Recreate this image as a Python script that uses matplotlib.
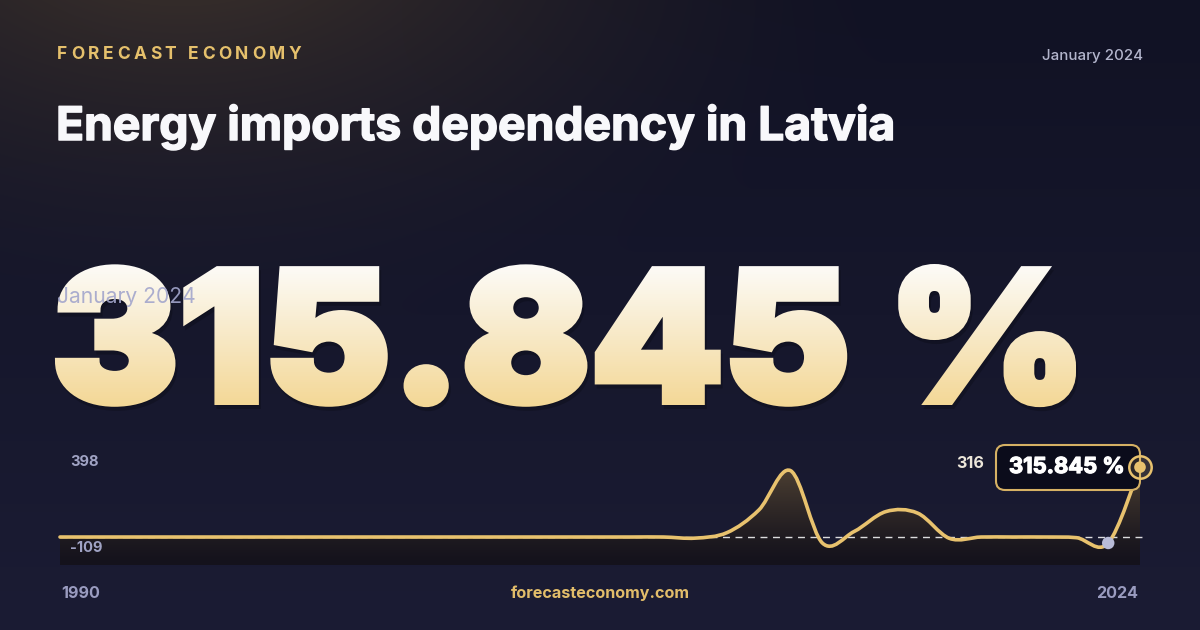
import numpy as np
import matplotlib
matplotlib.use("Agg")
import matplotlib.pyplot as plt
import matplotlib.patheffects as pe
from matplotlib.path import Path
from matplotlib.patches import PathPatch, FancyBboxPatch, Rectangle
from matplotlib.textpath import TextPath, text_to_path
from matplotlib.font_manager import FontProperties
from matplotlib.transforms import Affine2D

# ---------------- data ----------------
years = [1990, 1991, 1992, 1993, 1994, 1995, 1996, 1997, 1998, 1999,
         2000, 2001, 2002, 2003, 2004, 2005, 2006, 2007, 2008, 2009,
         2010, 2011, 2012, 2013, 2014, 2015, 2016, 2017, 2018, 2019,
         2020, 2021, 2022, 2023, 2024]
values = [0, 0, 0, 0, 0, 0, 0, 0, 0, 0,
          0, 0, 0, 0, 0, 0, 0, 0, 0, 0,
          -5, 20, 122, 300, -27, 25, 115, 108, -6, 0,
          0, 0, -3, -27, 315.845]
y_max_label = 398
y_min_label = -109
last_label = "315.845 %"
big_value = "315.845 %"
title = "Energy imports dependency in Latvia"
brand = "FORECAST ECONOMY"
period = "January 2024"
site = "forecasteconomy.com"

GOLD = "#e8c26e"
FONT = ["Inter", "DejaVu Sans"]
PX = 72 / 100  # points per pixel at dpi 100

fig = plt.figure(figsize=(12, 6.3), dpi=100)

# ---------------- background (pixel coords) ----------------
bg = fig.add_axes([0, 0, 1, 1])
bg.set_xlim(0, 1200)
bg.set_ylim(630, 0)
bg.axis("off")

yy, xx = np.mgrid[0:630, 0:1200]
t = (yy / 630.0)[..., None]
base = np.array([17, 18, 36]) * (1 - t) + np.array([27, 28, 52]) * t
d = np.sqrt(((xx - 180) / 750.0) ** 2 + ((yy + 80) / 420.0) ** 2)
w = (np.clip(1 - d, 0, 1) ** 1.6)[..., None]
glow = np.array([66, 54, 44])
img = base * (1 - w) + glow * w
bg.imshow(img / 255.0, extent=(0, 1200, 630, 0), aspect="auto", zorder=0)

# brand with letter spacing
bprop = FontProperties(family=FONT, weight="bold", size=12.5)
adv = [text_to_path.get_text_width_height_descent(c, bprop, ismath=False)[0] / PX
       for c in brand]
span = 299 - 57
gap = (span - sum(adv[:-1]) - adv[-1] * 0.8) / (len(brand) - 1)
x = 57
for c, a in zip(brand, adv):
    bg.text(x, 59, c, fontproperties=bprop, color="#e5c06c", va="baseline", ha="left")
    x += a + gap

bg.text(1143, 60, period, family=FONT, fontsize=10.9, color="#b3b5cc",
        ha="right", va="baseline", fontweight="medium")
bg.text(56, 140, title, family=FONT, fontsize=33.3, fontweight="bold",
        color="#f8f8fb", ha="left", va="baseline",
        path_effects=[pe.withStroke(linewidth=1.1, foreground="#f8f8fb")])

# big value: heavy glyphs (fill + stroke) with a vertical gradient
vprop = FontProperties(family=FONT, weight="black")
tp = TextPath((0, 0), big_value, size=100, prop=vprop)
ext = tp.get_extents()
r = 3.5  # stroke half width in px
sx = (1076 - 55 - 2 * r) / (ext.x1 - ext.x0)
sy = (405 - 264 - 2 * r) / ext.y1
tr = Affine2D().scale(sx, -sy).translate(55 + r - ext.x0 * sx, 405 - r)
vpath = tr.transform_path(tp)
lw_pt = 2 * r * PX

bg.add_patch(PathPatch(vpath, transform=Affine2D().translate(2, 4) + bg.transData,
                       facecolor="black", edgecolor="black", lw=lw_pt,
                       joinstyle="miter", alpha=0.2, zorder=1))
top_c = np.array([252, 251, 248]) / 255
bot_c = np.array([243, 215, 150]) / 255
y0, y1, step = 256, 412, 2
for yb in range(y0, y1, step):
    f = min(max((yb + step / 2 - 264) / (405 - 264), 0), 1)
    col = top_c * (1 - f) + bot_c * f
    band = Rectangle((0, yb), 1200, step, transform=bg.transData)
    p = PathPatch(vpath, transform=bg.transData, facecolor=col, edgecolor=col,
                  lw=lw_pt, joinstyle="miter", zorder=2)
    bg.add_patch(p)
    p.set_clip_path(band)

bg.text(57, 302.7, period, family=FONT, fontsize=15.2, color="#a3a6cc",
        alpha=0.9, ha="left", va="baseline", zorder=5)

# bottom labels
bg.text(61, 598, str(years[0]), family=FONT, fontsize=11.6, fontweight="bold",
        color="#9a9cc0", ha="left", va="baseline")
bg.text(1138, 598, str(years[-1]), family=FONT, fontsize=11.6, fontweight="bold",
        color="#9a9cc0", ha="right", va="baseline")
bg.text(600, 598, site, family=FONT, fontsize=11.6, fontweight="bold",
        color="#e2bd6a", ha="center", va="baseline")

# ---------------- chart ----------------
ax = fig.add_axes([60 / 1200, (630 - 565) / 630, 1080 / 1200, 116 / 630])
ymin = y_min_label - 17.5
ax.set_xlim(years[0], years[-1])
ax.set_ylim(ymin, y_max_label)
ax.axis("off")
ax.patch.set_alpha(0)

pts = np.column_stack([years, values]).astype(float)
n = len(pts)
verts = [pts[0]]
codes = [Path.MOVETO]
for i in range(n - 1):
    p0 = pts[i - 1] if i > 0 else pts[i]
    p1 = pts[i]
    p2 = pts[i + 1]
    p3 = pts[i + 2] if i + 2 < n else pts[i + 1]
    verts += [p1 + (p2 - p0) / 6, p2 - (p3 - p1) / 6, p2]
    codes += [Path.CURVE4] * 3

fverts = verts + [(years[-1], ymin), (years[0], ymin), pts[0]]
fcodes = codes + [Path.LINETO, Path.LINETO, Path.CLOSEPOLY]
fpatch = PathPatch(Path(fverts, fcodes), transform=ax.transData,
                   facecolor="none", edgecolor="none")
ax.add_patch(fpatch)
gy = np.linspace(0, 1, 200)[:, None, None]
c_top = np.array([92, 76, 56]) / 255
c_bot = np.array([20, 18, 28]) / 255
fgrad = c_top * (1 - gy) ** 1.3 + c_bot * (1 - (1 - gy) ** 1.3)
fgrad = np.repeat(fgrad, 2, axis=1)
fim = ax.imshow(fgrad, extent=(years[0], years[-1], ymin, y_max_label),
                aspect="auto", origin="upper", zorder=1)
fim.set_clip_path(fpatch)

ax.plot([years[0], years[-1] + 0.2], [0, 0], ls=(0, (5, 4)), color="white",
        lw=1, alpha=0.85, zorder=2, clip_on=False)
ax.add_patch(PathPatch(Path(verts, codes), facecolor="none", edgecolor=GOLD,
                       lw=2.6, capstyle="round", joinstyle="round", zorder=3,
                       clip_on=False))

ax.scatter([years[-2]], [values[-2]], s=80, color="#b9bcd8", zorder=4,
           edgecolors="none", clip_on=False)

# tooltip box on top of chart
box = FancyBboxPatch((996, 445), 144, 45, boxstyle="round,pad=0,rounding_size=9",
                     transform=bg.transData, facecolor="#0b0c1b", edgecolor="#d6b164",
                     lw=1.5, zorder=5, clip_on=False)
ax.add_patch(box)
ax.text(1009, 473, last_label, transform=bg.transData, family=FONT,
        fontsize=15.8, fontweight="bold", color="white", ha="left",
        va="baseline", zorder=6,
        path_effects=[pe.withStroke(linewidth=0.9, foreground="white")])
ax.scatter([years[-1]], [values[-1]], s=260, facecolor=(0.91, 0.76, 0.43, 0.15),
           edgecolors=GOLD, linewidths=1.8, zorder=7, clip_on=False)
ax.scatter([years[-1]], [values[-1]], s=70, color=GOLD, zorder=8,
           edgecolors="none", clip_on=False)

ax.text(984, 468, str(round(values[-1])), transform=bg.transData, family=FONT,
        fontsize=11.6, fontweight="bold", color="#ece6da", ha="right", va="baseline",
        zorder=6)
ax.text(70, 466, str(y_max_label), transform=bg.transData, family=FONT,
        fontsize=10.6, fontweight="bold", color="#a0a3c4", ha="left", va="baseline",
        zorder=6)
ax.text(70, 552, str(y_min_label), transform=bg.transData, family=FONT,
        fontsize=10.6, fontweight="bold", color="#a0a3c4", ha="left", va="baseline",
        zorder=6)

fig.savefig("out.png", dpi=100)
